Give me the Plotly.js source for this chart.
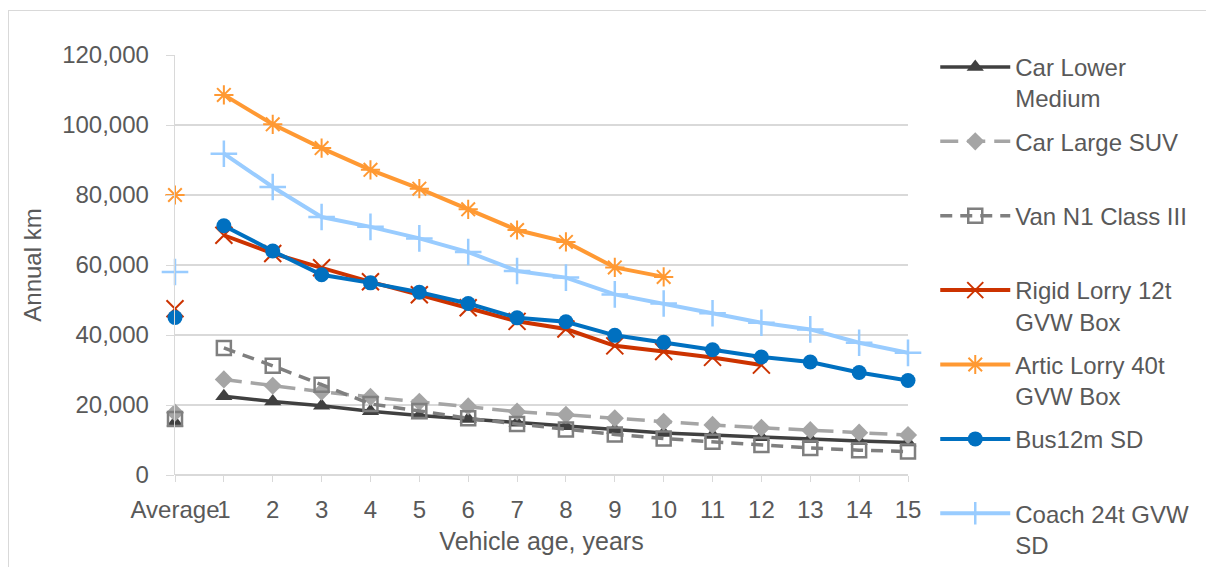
<!DOCTYPE html>
<html>
<head>
<meta charset="utf-8">
<script src="https://cdn.plot.ly/plotly-3.0.1.min.js"></script>
<style>
  html, body { margin: 0; padding: 0; width: 1206px; height: 567px; overflow: hidden; background: #fff; }
  #chart { width: 1206px; height: 567px; }
  #frame { position: absolute; left: 8px; top: 10px; width: 1400px; height: 700px; border: 1px solid #d9d9d9; pointer-events: none; }
</style>
</head>
<body>
<div id="chart"></div>
<div id="frame"></div>
<script>
// Categories (x axis): "Average" then vehicle age 1..15
const categories = ["Average", "1", "2", "3", "4", "5", "6", "7", "8", "9", "10", "11", "12", "13", "14", "15"];

// Series values: first entry is the "Average", then ages 1..n
const carLowerMedium = [15000, 22500, 21000, 19800, 18200, 17000, 16000, 14900, 13900, 12900, 12000, 11400, 10800, 10300, 9700, 9300];
const carLargeSUV    = [17800, 27300, 25500, 23800, 22300, 20900, 19600, 18100, 17200, 16200, 15200, 14300, 13500, 12800, 12100, 11400];
const vanN1ClassIII  = [16000, 36300, 31200, 25800, 20300, 18300, 16200, 14600, 13000, 11600, 10400, 9500, 8600, 7700, 7100, 6700];
const rigidLorry12t  = [47500, 68500, 63300, 59200, 55200, 51500, 47800, 43900, 41700, 36900, 35300, 33600, 31400];
const articLorry40t  = [80000, 108600, 100200, 93400, 87200, 81800, 75900, 70000, 66600, 59300, 56600];
const bus12mSD       = [45000, 71200, 64000, 57200, 54900, 52200, 49000, 44900, 43800, 39900, 37900, 35800, 33700, 32300, 29300, 27000];
const coach24tSD     = [58000, 91800, 82300, 73700, 70900, 67600, 63700, 58300, 56400, 51600, 49000, 46200, 43500, 41600, 37800, 34900];

const seriesNames = ["Car Lower<br>Medium", "Car Large SUV<br>\u00a0", "Van N1 Class III<br>\u00a0", "Rigid Lorry 12t<br>GVW Box", "Artic Lorry 40t<br>GVW Box", "Bus12m SD<br>\u00a0", "Coach 24t GVW<br>SD"];
const seriesData = [carLowerMedium, carLargeSUV, vanN1ClassIII, rigidLorry12t, articLorry40t, bus12mSD, coach24tSD];

const styles = [
  {color: "#404040", width: 3.5, dash: "solid", symbol: "triangle-up", size: 15, mline: 0},
  {color: "#A5A5A5", width: 3.5, dash: "18px,9px", symbol: "diamond", size: 14, mline: 0},
  {color: "#7F7F7F", width: 3.5, dash: "12px,8px", symbol: "square-open", size: 14, mline: 2.5},
  {color: "#CC3300", width: 4, dash: "solid", symbol: "x-thin-open", size: 17, mline: 2},
  {color: "#FF9933", width: 4, dash: "solid", symbol: "asterisk-open", size: 16, mline: 2},
  {color: "#0070C0", width: 4, dash: "solid", symbol: "circle", size: 15, mline: 0},
  {color: "#99CCFF", width: 4, dash: "solid", symbol: "cross-thin-open", size: 19, mline: 2.5}
];

const traces = [];
seriesData.forEach((vals, i) => {
  const st = styles[i];
  const xs = [];
  const ys = [];
  for (let k = 1; k < vals.length; k++) { xs.push(k); ys.push(vals[k]); }
  const marker = {symbol: st.symbol, size: st.size, color: st.color, line: {color: st.color, width: st.mline}};
  traces.push({
    x: xs, y: ys, type: "scatter", mode: "lines+markers",
    name: seriesNames[i], legendgroup: "g" + i,
    line: {color: st.color, width: st.width, dash: st.dash},
    marker: marker, cliponaxis: false, hoverinfo: "x+y"
  });
  traces.push({
    x: [0], y: [vals[0]], type: "scatter", mode: "markers",
    name: seriesNames[i], legendgroup: "g" + i, showlegend: false,
    marker: marker, cliponaxis: false
  });
});

const font = "Arial, 'Liberation Sans', sans-serif";
const txt = "#595959";

const layout = {
  width: 1206, height: 567,
  margin: {l: 175, r: 298, t: 55, b: 92},
  paper_bgcolor: "#ffffff", plot_bgcolor: "#ffffff",
  font: {family: font, size: 24, color: txt},
  showlegend: true,
  legend: {
    xref: "container", yref: "container",
    x: 0.7755, y: 0.921, xanchor: "left", yanchor: "top",
    font: {family: font, size: 24, color: txt},
    itemwidth: 70, valign: "top", tracegroupgap: 9,
    maxheight: 560,
    bgcolor: "rgba(0,0,0,0)"
  },
  xaxis: {
    range: [0, 15], tickmode: "array",
    tickvals: categories.map((c, i) => i), ticktext: categories,
    tickangle: 0, showgrid: false, zeroline: false,
    showline: false, ticks: "outside", ticklen: 6, tickcolor: "#d9d9d9",
    ticklabelstandoff: 7,
    tickfont: {family: font, size: 24, color: txt},
    title: {text: "Vehicle age, years", font: {family: font, size: 25, color: txt}, standoff: 10}
  },
  yaxis: {
    range: [0, 120000], tickvals: [0, 20000, 40000, 60000, 80000, 100000, 120000],
    tickformat: ",d", showgrid: true, gridcolor: "#d9d9d9", gridwidth: 1.3,
    zeroline: true, zerolinecolor: "#d9d9d9", zerolinewidth: 1.3,
    showline: true, linecolor: "#d9d9d9", linewidth: 1.3,
    ticks: "outside", ticklen: 8, tickcolor: "#d9d9d9",
    ticklabelstandoff: 12,
    tickfont: {family: font, size: 24, color: txt},
    title: {text: "Annual km", font: {family: font, size: 24, color: txt}, standoff: 13}
  }
};

Plotly.newPlot("chart", traces, layout, {displayModeBar: false, staticPlot: true});
</script>
</body>
</html>
